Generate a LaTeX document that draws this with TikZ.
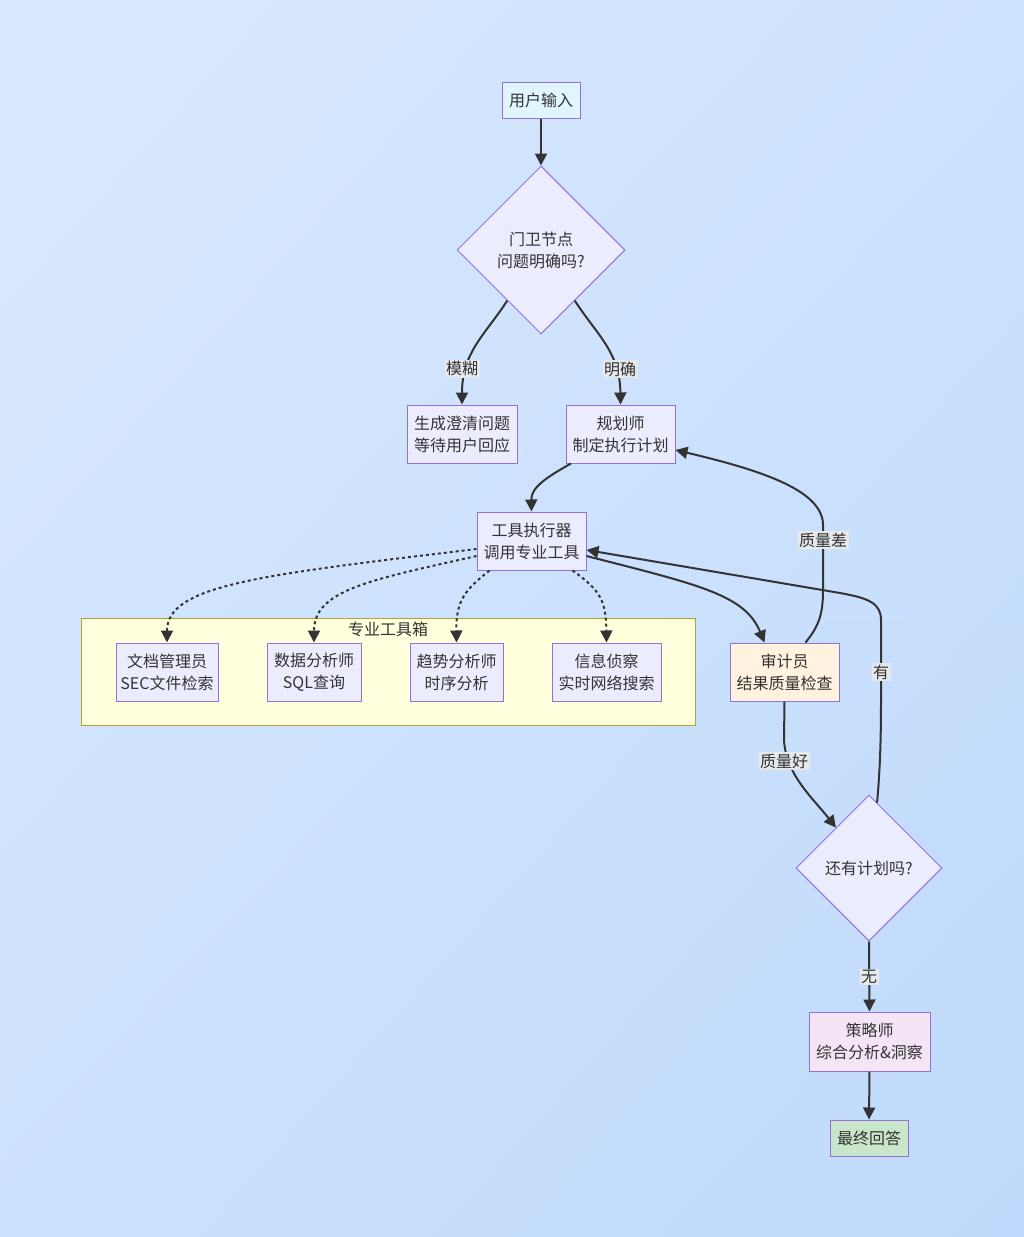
\documentclass[tikz,border=0pt]{standalone}
\usepackage{fontspec}
\setmainfont{Noto Sans CJK SC}
\usetikzlibrary{shapes.geometric,arrows.meta,calc,shadings}
\definecolor{bgA}{HTML}{DAE9FD}
\definecolor{bgB}{HTML}{CDE2FD}
\definecolor{bgC}{HTML}{CCE1FC}
\definecolor{bgD}{HTML}{BFDAFC}
\definecolor{nodefill}{HTML}{ECECFF}
\definecolor{nodeline}{HTML}{9370DB}
\definecolor{startfill}{HTML}{E1F5FE}
\definecolor{auditfill}{HTML}{FFF3E0}
\definecolor{stratfill}{HTML}{F3E5F5}
\definecolor{finalfill}{HTML}{C8E6C9}
\definecolor{clusterfill}{HTML}{FFFFDE}
\definecolor{clusterline}{HTML}{AAAA33}
\definecolor{textc}{HTML}{333333}
\definecolor{lblbg}{HTML}{E6E8EC}
\tikzset{
  base/.style={draw=nodeline, line width=1pt, fill=nodefill, text=textc, align=center,
    inner sep=0pt, font=\fontsize{16}{22}\selectfont},
  boxnode/.style={base, rectangle, minimum height=58pt},
  decision/.style={base, diamond, aspect=1},
  conn/.style={draw=textc, line width=2pt, -{Triangle[length=12pt,width=12pt]}},
  dotconn/.style={conn, dash pattern=on 3pt off 3pt},
  lbl/.style={fill=lblbg, inner sep=1.5pt, text=textc, font=\fontsize{16}{18}\selectfont},
}
\begin{document}
\begin{tikzpicture}[x=1pt,y=-1pt]
\shade[upper left=bgA, upper right=bgB, lower left=bgC, lower right=bgD] (0,0) rectangle (1024,1237);
\useasboundingbox (0,0) rectangle (1024,1237);

% cluster
\node[draw=clusterline, line width=1pt, fill=clusterfill, minimum width=614pt, minimum height=107pt, inner sep=0pt] (toolbox) at (388,671.5) {};
\node[text=textc, font=\fontsize{16}{18}\selectfont] (toolboxtitle) at (388,629) {专业工具箱};

% nodes
\node[boxnode, fill=startfill, minimum width=78pt, minimum height=36pt] (start) at (541,100) {用户输入};
\node[decision, minimum width=168pt, minimum height=168pt] (gate) at (541,250) {门卫节点\\问题明确吗?};
\node[boxnode, minimum width=110pt] (clarify) at (462,434) {生成澄清问题\\等待用户回应};
\node[boxnode, minimum width=109pt] (planner) at (620.5,434) {规划师\\制定执行计划};
\node[boxnode, minimum width=109pt] (exec) at (531.5,541) {工具执行器\\调用专业工具};
\node[boxnode, minimum width=102pt] (doc) at (167,672) {文档管理员\\SEC文件检索};
\node[boxnode, minimum width=94pt] (data) at (314,672) {数据分析师\\SQL查询};
\node[boxnode, minimum width=93pt] (trend) at (456.5,672) {趋势分析师\\时序分析};
\node[boxnode, minimum width=109pt] (recon) at (606.5,672) {信息侦察\\实时网络搜索};
\node[boxnode, fill=auditfill, minimum width=109pt] (audit) at (784.5,672) {审计员\\结果质量检查};
\node[decision, minimum width=146pt, minimum height=146pt] (more) at (869,868) {还有计划吗?};
\node[boxnode, fill=stratfill, minimum width=121pt, minimum height=59pt] (strat) at (869.5,1041.5) {策略师\\综合分析\&洞察};
\node[boxnode, fill=finalfill, minimum width=78pt, minimum height=36pt] (final) at (869,1138) {最终回答};

% connectors
\draw[conn] (start.south) -- (gate.north);
\draw[conn] ($(gate.south)!0.4!(gate.west)$) .. controls (485,335) and (462,352) .. (clarify.north);
\draw[conn] ($(gate.south)!0.4!(gate.east)$) .. controls (597,335) and (620,352) .. (planner.north);
\draw[conn] ($(planner.south west)!0.05!(planner.south east)$) .. controls (545,478) and (531,488) .. (exec.north);

\draw[dotconn] ($(exec.west)+(0,8)$) .. controls (260,575) and (167,585) .. (doc.north);
\draw[dotconn] ($(exec.west)+(0,15)$) .. controls (370,580) and (314,590) .. (data.north);
\draw[dotconn] ($(exec.south west)+(13,0)$) .. controls (465,590) and (456,600) .. (trend.north);
\draw[dotconn] ($(exec.south east)+(-14,0)$) .. controls (600,590) and (606,600) .. (recon.north);

\draw[conn] ($(exec.east)+(0,15)$) .. controls (700,585) and (745,595) .. ($(audit.north west)+(35,0)$);
\draw[conn] ($(audit.north west)+(76,0)$) .. controls (820,625) and (823,612) .. (823,590) -- (823,525)
  .. controls (823,490) and (760,470) .. ($(planner.east)+(0,16)$);
\draw[conn] (audit.south) -- (784,740) .. controls (786,775) and (812,797) .. ($(more.north)!0.45!(more.west)$);
\draw[conn] ($(more.north)!0.11!(more.east)$) .. controls (880,770) and (881,740) .. (881,700) -- (881,620)
  .. controls (881,603) and (868,598) .. (840,593) -- ($(exec.east)+(0,9)$);
\draw[conn] (more.south) -- (strat.north);
\draw[conn] (strat.south) -- (final.north);

% labels
\node[lbl] (lblvague) at (462,369) {模糊};
\node[lbl] (lblclear) at (620,369) {明确};
\node[lbl] (lblbad) at (823,540) {质量差};
\node[lbl] (lblgood) at (784,761) {质量好};
\node[lbl] (lblyes) at (881,672) {有};
\node[lbl] (lblno) at (869,977) {无};
\end{tikzpicture}
\end{document}
